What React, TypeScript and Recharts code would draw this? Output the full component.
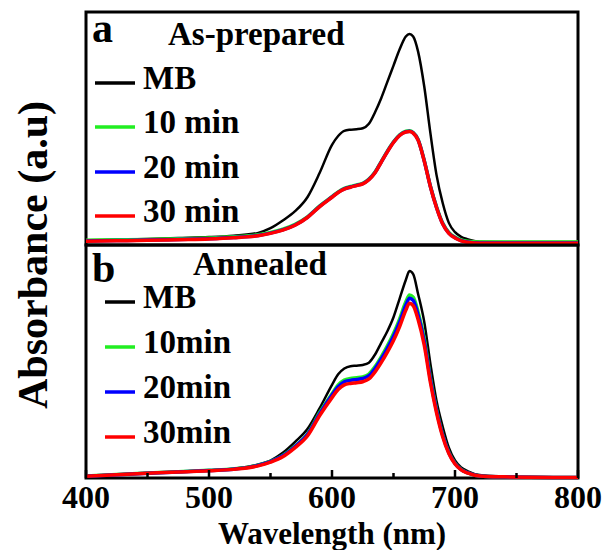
import { LineChart, Line, XAxis, YAxis, Legend, ReferenceArea } from 'recharts';

const FONT = "'Liberation Serif', 'Times New Roman', serif";

// wavelength (nm)
const wavelengths = [
  400, 425, 450, 475, 500, 520, 540, 550, 560, 570, 580, 590, 600, 605, 610, 615, 620, 625, 630, 635,
  640, 645, 650, 655, 660, 663, 666, 670, 675, 680, 685, 690, 695, 700, 705, 710, 720, 740, 760, 780, 800,
];

// panel a: as-prepared
const mbA = [
  0.020, 0.022, 0.026, 0.030, 0.034, 0.040, 0.052, 0.072, 0.105, 0.145, 0.205, 0.310, 0.430, 0.468, 0.490,
  0.495, 0.497, 0.501, 0.520, 0.570, 0.630, 0.700, 0.770, 0.840, 0.895, 0.906, 0.895, 0.830, 0.680, 0.480,
  0.300, 0.180, 0.095, 0.055, 0.035, 0.025, 0.014, 0.013, 0.013, 0.013, 0.013,
];
const min10A = [
  0.020, 0.022, 0.024, 0.027, 0.030, 0.035, 0.044, 0.054, 0.068, 0.089, 0.121, 0.168, 0.208, 0.228, 0.243,
  0.251, 0.258, 0.265, 0.283, 0.313, 0.358, 0.403, 0.443, 0.473, 0.488, 0.490, 0.483, 0.453, 0.363, 0.253,
  0.164, 0.094, 0.054, 0.034, 0.022, 0.016, 0.013, 0.013, 0.013, 0.013, 0.013,
];
const min20A = [
  0.017, 0.019, 0.021, 0.024, 0.027, 0.032, 0.041, 0.051, 0.065, 0.086, 0.119, 0.166, 0.206, 0.226, 0.241,
  0.249, 0.256, 0.263, 0.281, 0.311, 0.356, 0.401, 0.441, 0.471, 0.486, 0.488, 0.481, 0.451, 0.361, 0.251,
  0.161, 0.091, 0.051, 0.031, 0.019, 0.013, 0.009, 0.009, 0.009, 0.009, 0.009,
];
const min30A = [
  0.016, 0.018, 0.020, 0.023, 0.026, 0.031, 0.040, 0.050, 0.064, 0.085, 0.118, 0.165, 0.205, 0.225, 0.240,
  0.248, 0.255, 0.262, 0.280, 0.310, 0.355, 0.400, 0.440, 0.470, 0.485, 0.487, 0.480, 0.450, 0.360, 0.250,
  0.160, 0.090, 0.050, 0.030, 0.018, 0.012, 0.008, 0.008, 0.008, 0.008, 0.008,
];

// panel b: annealed
const mbB = [
  0.009, 0.015, 0.021, 0.027, 0.033, 0.040, 0.058, 0.075, 0.108, 0.155, 0.210, 0.300, 0.400, 0.445, 0.470,
  0.480, 0.482, 0.485, 0.495, 0.530, 0.580, 0.630, 0.690, 0.770, 0.850, 0.888, 0.875, 0.790, 0.670, 0.490,
  0.330, 0.220, 0.130, 0.075, 0.045, 0.030, 0.013, 0.006, 0.004, 0.003, 0.003,
];
const min10B = [
  0.009, 0.015, 0.021, 0.027, 0.033, 0.039, 0.055, 0.071, 0.097, 0.137, 0.189, 0.281, 0.362, 0.399, 0.420,
  0.427, 0.430, 0.434, 0.446, 0.478, 0.520, 0.567, 0.620, 0.683, 0.756, 0.785, 0.776, 0.713, 0.598, 0.430,
  0.294, 0.186, 0.110, 0.063, 0.037, 0.023, 0.009, 0.005, 0.003, 0.002, 0.002,
];
const min20B = [
  0.008, 0.014, 0.020, 0.026, 0.032, 0.038, 0.054, 0.070, 0.095, 0.135, 0.186, 0.276, 0.356, 0.392, 0.413,
  0.419, 0.423, 0.427, 0.439, 0.470, 0.511, 0.557, 0.608, 0.670, 0.742, 0.771, 0.762, 0.700, 0.587, 0.423,
  0.289, 0.183, 0.108, 0.062, 0.036, 0.023, 0.009, 0.005, 0.003, 0.002, 0.002,
];
const min30B = [
  0.008, 0.014, 0.020, 0.026, 0.031, 0.037, 0.052, 0.068, 0.091, 0.130, 0.180, 0.268, 0.345, 0.380, 0.400,
  0.406, 0.409, 0.413, 0.425, 0.455, 0.495, 0.540, 0.590, 0.650, 0.720, 0.750, 0.740, 0.680, 0.570, 0.410,
  0.280, 0.177, 0.105, 0.060, 0.035, 0.022, 0.009, 0.005, 0.003, 0.002, 0.002,
];

const xTicks = [400, 450, 500, 550, 600, 650, 700, 750, 800];
const labelsA = ['MB', '10 min', '20 min', '30 min'];
const labelsB = ['MB', '10min', '20min', '30min'];
const colors = ['#000000', '#22ee22', '#0000ff', '#ff0000'];
const widths = [2.5, 3.5, 3.5, 3.5];
const keys = ['mb', 'm10', 'm20', 'm30'];

const buildRows = (cols) =>
  wavelengths.map((nm, i) => {
    const row = { nm };
    cols.forEach((c, k) => {
      row[keys[k]] = c[i];
    });
    return row;
  });

const dataA = buildRows([mbA, min10A, min20A, min30A]);
const dataB = buildRows([mbB, min10B, min20B, min30B]);

const WaveTick = ({ x, y, payload }) => {
  const major = payload.value % 100 === 0;
  return (
    <g>
      <line x1={x} x2={x} y1={y} y2={y - (major ? 8 : 5)} stroke="#000" strokeWidth={2.5} />
      {major && (
        <text x={x} y={y + 30} textAnchor="middle" fontSize={32} fontWeight="bold" fontFamily={FONT} fill="#000">
          {payload.value}
        </text>
      )}
    </g>
  );
};

const PanelKey = ({ letter, letterY, title, titleX, titleY, labels, lineX1, rowY }) => (
  <svg width={604} height={550} style={{ position: 'absolute', left: 0, top: 0, overflow: 'visible' }}>
    <g fontFamily={FONT} fontWeight="bold" fill="#000">
      <text x={92} y={letterY} fontSize={42}>{letter}</text>
      <text x={titleX} y={titleY} fontSize={33}>{title}</text>
      {labels.map((l, i) => (
        <g key={l}>
          <line x1={lineX1} x2={135} y1={rowY[i] - 6} y2={rowY[i] - 6} stroke={colors[i]} strokeWidth={3.5} />
          <text x={143} y={rowY[i]} fontSize={33}>{l}</text>
        </g>
      ))}
    </g>
  </svg>
);

const Frame = () => (
  <ReferenceArea x1={400} x2={800} y1={0} y2={1} fill="none" stroke="#000" strokeWidth={3} ifOverflow="visible" />
);

const Series = () =>
  keys.map((k, i) => (
    <Line
      key={k}
      type="monotone"
      dataKey={k}
      stroke={colors[i]}
      strokeWidth={widths[i]}
      dot={false}
      isAnimationActive={false}
    />
  ));

export default function App() {
  return (
    <div style={{ position: 'absolute', left: 0, top: 0, width: 604, height: 550, background: '#fff', fontFamily: FONT }}>
      <div style={{ position: 'absolute', left: 0, top: 0 }}>
        <LineChart width={604} height={250} data={dataA} margin={{ top: 12, right: 26, bottom: 5, left: 86 }}>
          <XAxis dataKey="nm" type="number" domain={[400, 800]} hide />
          <YAxis type="number" domain={[0, 1]} hide />
          {Frame()}
          {Series()}
          <Legend
            layout="horizontal"
            verticalAlign="middle"
            align="center"
            wrapperStyle={{ left: 0, top: 0, width: 604, height: 250 }}
            content={() => (
              <PanelKey letter="a" letterY={42} title="As-prepared" titleX={168} titleY={45} labels={labelsA} lineX1={95} rowY={[89, 133, 178, 222]} />
            )}
          />
        </LineChart>
      </div>
      <div style={{ position: 'absolute', left: 0, top: 0 }}>
        <LineChart width={604} height={550} data={dataB} margin={{ top: 245, right: 26, bottom: 0, left: 86 }}>
          <XAxis
            dataKey="nm"
            type="number"
            domain={[400, 800]}
            ticks={xTicks}
            interval={0}
            height={72}
            tickSize={0}
            tickMargin={0}
            tickLine={false}
            tick={<WaveTick />}
            axisLine={false}
            label={{ value: 'Wavelength (nm)', position: 'insideBottom', offset: 6, fill: '#000', fontSize: 31, fontWeight: 'bold', fontFamily: FONT }}
          />
          <YAxis type="number" domain={[0, 1]} hide />
          {Frame()}
          {Series()}
          <Legend
            layout="horizontal"
            verticalAlign="middle"
            align="center"
            wrapperStyle={{ left: 0, top: 0, width: 604, height: 550 }}
            content={() => (
              <PanelKey letter="b" letterY={282} title="Annealed" titleX={193} titleY={275} labels={labelsB} lineX1={105} rowY={[308, 353, 398, 443]} />
            )}
          />
        </LineChart>
      </div>
      <div
        style={{
          position: 'absolute',
          left: 33,
          top: 255,
          transform: 'translate(-50%, -50%) rotate(-90deg)',
          fontSize: 42,
          fontWeight: 'bold',
          whiteSpace: 'nowrap',
          lineHeight: 1,
          color: '#000',
        }}
      >
        Absorbance (a.u)
      </div>
    </div>
  );
}
